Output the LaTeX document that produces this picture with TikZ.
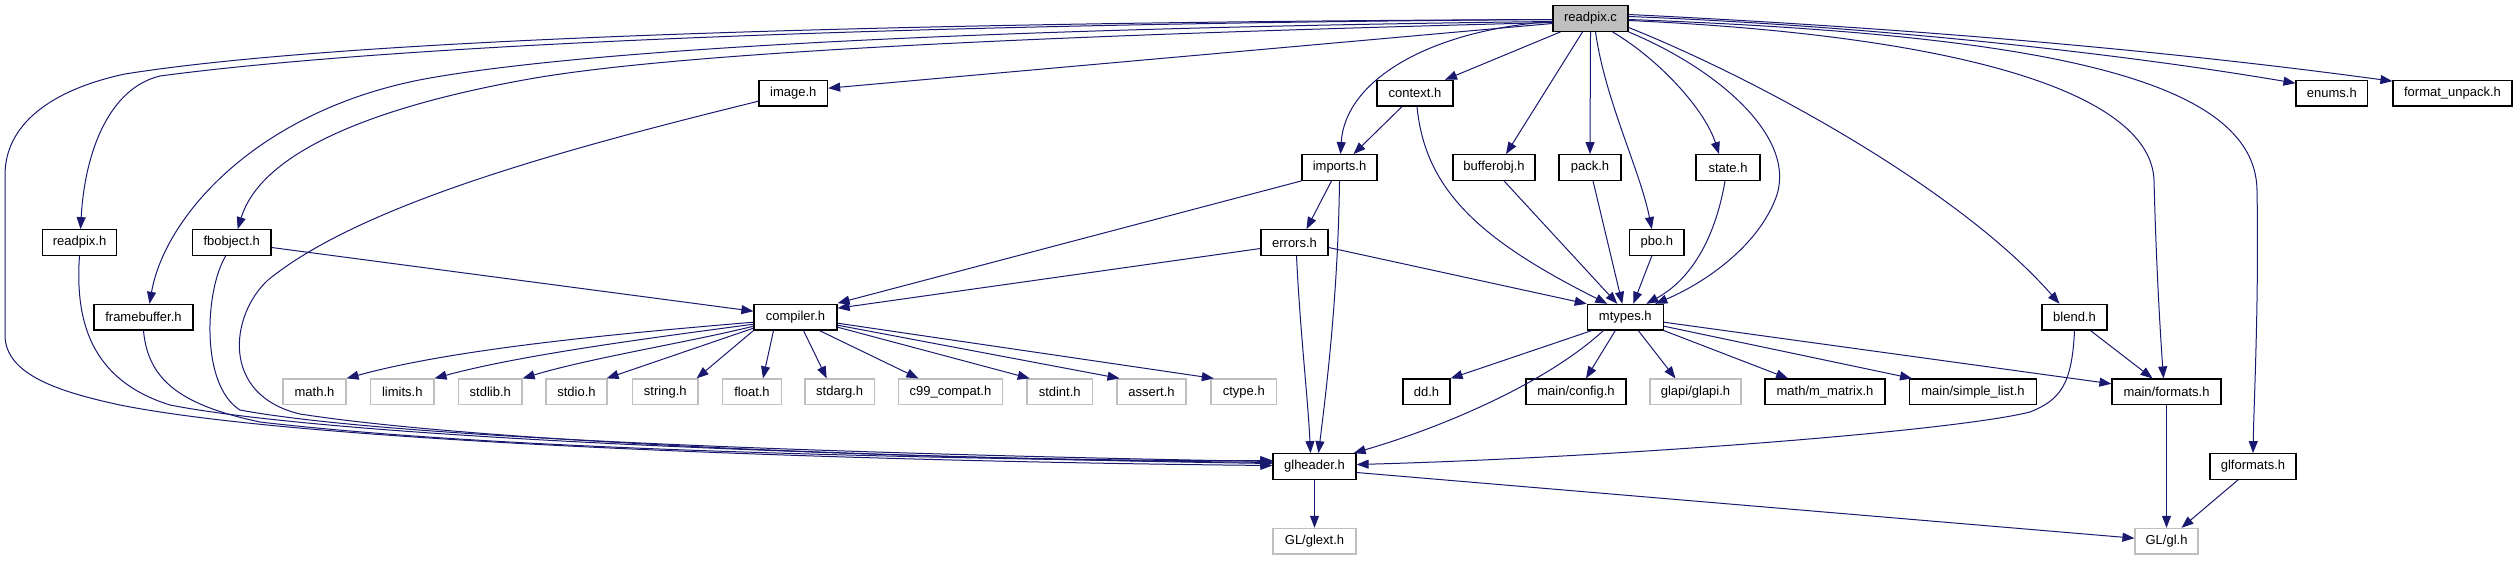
\documentclass[tikz,border=0pt]{standalone}
\usepackage{fontspec}
\setmainfont{Liberation Sans}
\usetikzlibrary{arrows.meta}
\definecolor{edgeblue}{HTML}{191970}
\definecolor{sysgray}{HTML}{BFBFBF}
\begin{document}
\begin{tikzpicture}[x=1pt,y=-1pt,
  nd/.style={draw=black, line width=1.2pt, fill=white, rectangle, minimum height=25.6pt, inner sep=0pt, font=\fontsize{13pt}{15pt}\selectfont},
  sys/.style={nd, draw=sysgray},
  dep/.style={draw=edgeblue, line width=1pt, -{Triangle[length=12pt,width=9pt]}}]
\useasboundingbox[fill=white] (0,0) rectangle (2516,560);
% rank 0
\node[nd, fill=sysgray, minimum width=75pt] (rc) at (1590.5,18.5) {readpix.c};
% rank 1
\node[nd, minimum width=68.5pt] (im) at (793.3,93.2) {image.h};
\node[nd, minimum width=76pt] (ct) at (1415,93.2) {context.h};
\node[nd, minimum width=71.5pt] (en) at (2331.8,93.2) {enums.h};
\node[nd, minimum width=119pt] (fu) at (2452.5,93.2) {format\_unpack.h};
% rank 2
\node[nd, minimum width=75pt] (ip) at (1339.5,167.5) {imports.h};
\node[nd, minimum width=82pt] (bo) at (1494,167.5) {bufferobj.h};
\node[nd, minimum width=62pt] (pk) at (1590,167.5) {pack.h};
\node[nd, minimum width=64pt] (st) at (1728,167.5) {state.h};
% rank 3
\node[nd, minimum width=74.5pt] (rh) at (79.5,242.5) {readpix.h};
\node[nd, minimum width=78.7pt] (fo) at (231.7,242.5) {fbobject.h};
\node[nd, minimum width=67pt] (er) at (1294.5,242.5) {errors.h};
\node[nd, minimum width=54.5pt] (pb) at (1656.8,242.5) {pbo.h};
% rank 4
\node[nd, minimum width=99pt] (fb) at (143.5,317.2) {framebuffer.h};
\node[nd, minimum width=83pt] (cp) at (795.5,317.2) {compiler.h};
\node[nd, minimum width=76pt] (mt) at (1625.3,317.2) {mtypes.h};
\node[nd, minimum width=65pt] (bl) at (2074.5,317.2) {blend.h};
% rank 5
\node[sys, minimum width=63pt] (mh) at (314.5,391.8) {math.h};
\node[sys, minimum width=63.3pt] (lm) at (402.3,391.8) {limits.h};
\node[sys, minimum width=63.5pt] (sdl) at (490.3,391.8) {stdlib.h};
\node[sys, minimum width=61pt] (sio) at (576.5,391.8) {stdio.h};
\node[sys, minimum width=65.4pt] (str) at (665.3,391.8) {string.h};
\node[sys, minimum width=59pt] (fl) at (752,391.8) {float.h};
\node[sys, minimum width=69.3pt] (sa) at (839.7,391.8) {stdarg.h};
\node[sys, minimum width=104pt] (cn) at (950.4,391.8) {c99\_compat.h};
\node[sys, minimum width=65.3pt] (sint) at (1059.7,391.8) {stdint.h};
\node[sys, minimum width=69pt] (asr) at (1151.5,391.8) {assert.h};
\node[sys, minimum width=65.5pt] (cty) at (1243.8,391.8) {ctype.h};
\node[nd, minimum width=47pt] (dd) at (1426.5,391.8) {dd.h};
\node[nd, minimum width=100pt] (mc) at (1576,391.8) {main/config.h};
\node[sys, minimum width=91pt] (ga) at (1695.5,391.8) {glapi/glapi.h};
\node[nd, minimum width=120pt] (mm) at (1825,391.8) {math/m\_matrix.h};
\node[nd, minimum width=126.5pt] (sl) at (1973,391.8) {main/simple\_list.h};
\node[nd, minimum width=109pt] (mf) at (2166.5,391.8) {main/formats.h};
% rank 6
\node[nd, minimum width=83pt] (gh) at (1314.5,466.5) {glheader.h};
\node[nd, minimum width=86pt] (gf) at (2253,466.5) {glformats.h};
% rank 7
\node[sys, minimum width=83pt] (ge) at (1314.5,541.2) {GL/glext.h};
\node[sys, minimum width=63pt] (gl) at (2166.5,541.2) {GL/gl.h};

% ---- edges from readpix.c
\draw[dep] ([yshift=-1pt]rc.west) .. controls (900,22) and (350,38) .. (125,74)
  .. controls (50,90) and (5,125) .. (5,175) -- (5,335)
  .. controls (5,375) and (60,392) .. (120,405)
  .. controls (320,445) and (900,462) .. ([yshift=1pt]gh.west);
\draw[dep] ([yshift=-1pt]rc.west) .. controls (900,24) and (400,44) .. (160,76)
  .. controls (110,88) and (85,150) .. ([xshift=1pt]rh.north);
\draw[dep] ([yshift=-3pt]rc.west) .. controls (1000,28) and (600,48) .. (430,78)
  .. controls (260,108) and (165,215) .. ([xshift=6pt]fb.north);
\draw[dep] ([yshift=-4pt]rc.west) .. controls (1100,34) and (700,50) .. (535,78)
  .. controls (380,105) and (262,150) .. ([xshift=6pt]fo.north);
\draw[dep] ([yshift=-5pt]rc.west) -- ([yshift=5pt]im.east);
\draw[dep] ([yshift=-3pt]rc.west) .. controls (1430,30) and (1345,80) .. ([xshift=1pt]ip.north);
\draw[dep] ([xshift=-30pt]rc.south) -- ([xshift=30pt]ct.north);
\draw[dep] ([xshift=-8pt]rc.south) -- ([xshift=12pt]bo.north);
\draw[dep] (rc.south) -- (pk.north);
\draw[dep] ([xshift=5pt]rc.south) .. controls (1605,100) and (1640,170) .. ([xshift=-5pt]pb.north);
\draw[dep] ([xshift=22pt]rc.south) .. controls (1660,60) and (1705,110) .. ([xshift=-9pt]st.north);
\draw[dep] (rc.south east) .. controls (1720,70) and (1800,140) .. (1775,200)
  .. controls (1755,250) and (1700,285) .. ([xshift=30pt]mt.north);
\draw[dep] ([yshift=-9pt]rc.east) .. controls (1760,80) and (1960,190) .. ([xshift=-15pt]bl.north);
\draw[dep] ([yshift=-2pt]rc.east) .. controls (1950,35) and (2150,90) .. (2154,180)
  .. controls (2156,260) and (2160,330) .. ([xshift=-3pt]mf.north);
\draw[dep] ([yshift=-1pt]rc.east) .. controls (2050,35) and (2255,80) .. (2257,190)
  .. controls (2259,300) and (2254,400) .. (gf.north);
\draw[dep] ([yshift=2pt]rc.east) .. controls (1850,25) and (2100,50) .. ([yshift=10pt]en.west);
\draw[dep] ([yshift=4pt]rc.east) .. controls (1950,30) and (2200,55) .. ([yshift=12pt]fu.west);

% ---- into glheader from the left
\draw[dep] (rh.south) .. controls (75,320) and (90,380) .. (170,405)
  .. controls (350,440) and (900,458) .. ([yshift=3pt]gh.west);
\draw[dep] (fb.south) .. controls (148,380) and (180,405) .. (260,422)
  .. controls (500,450) and (900,458) .. ([yshift=4pt]gh.west);
\draw[dep] ([xshift=-6pt]fo.south) .. controls (205,290) and (200,385) .. (240,410)
  .. controls (400,440) and (900,455) .. ([yshift=5pt]gh.west);
\draw[dep] ([yshift=-8pt]im.west) .. controls (560,150) and (360,205) .. (268,280)
  .. controls (230,315) and (220,395) .. (300,414)
  .. controls (500,445) and (1000,462) .. ([yshift=6pt]gh.west);

% ---- middle
\draw[dep] ([yshift=-5pt]fo.east) -- ([yshift=6pt]cp.west);
\draw[dep] (ip.south west) -- ([yshift=14pt]cp.east);
\draw[dep] ([yshift=-6pt]er.west) -- ([yshift=9pt]cp.east);
\draw[dep] ([xshift=-8pt]ip.south) -- ([xshift=12pt]er.north);
\draw[dep] (ip.south) .. controls (1338,300) and (1325,400) .. ([xshift=4pt]gh.north);
\draw[dep] ([xshift=2pt]er.south) .. controls (1300,330) and (1308,400) .. ([xshift=-4pt]gh.north);
\draw[dep] ([yshift=-5pt]er.east) -- (mt.north west);
\draw[dep] ([xshift=-13pt]ct.south) -- ([xshift=14pt]ip.north);
\draw[dep] ([xshift=2pt]ct.south) .. controls (1425,190) and (1480,240) .. ([xshift=-18pt]mt.north);
\draw[dep] ([xshift=10pt]bo.south) -- ([xshift=-8pt]mt.north);
\draw[dep] ([xshift=3pt]pk.south) -- ([xshift=-3pt]mt.north);
\draw[dep] ([xshift=-5pt]pb.south) -- ([xshift=8pt]mt.north);
\draw[dep] ([xshift=-3pt]st.south) .. controls (1715,240) and (1690,280) .. ([xshift=21pt]mt.north);

% ---- from mtypes.h
\draw[dep] ([xshift=5pt]mt.south west) -- (dd.north east);
\draw[dep] ([xshift=-22pt]mt.south) .. controls (1550,380) and (1450,425) .. ([xshift=-3pt]gh.north east);
\draw[dep] ([xshift=-10pt]mt.south) -- ([xshift=10pt]mc.north);
\draw[dep] ([xshift=13pt]mt.south) -- ([xshift=-20pt]ga.north);
\draw[dep] (mt.south east) -- ([xshift=-37pt]mm.north);
\draw[dep] ([yshift=-9pt]mt.east) -- ([xshift=-61pt]sl.north);
\draw[dep] ([yshift=-5pt]mt.east) -- ([yshift=8pt]mf.west);

% ---- blend, formats, GL
\draw[dep] (bl.south) .. controls (2072,385) and (2060,400) .. (2030,412)
  .. controls (1950,432) and (1600,458) .. ([yshift=2pt]gh.east);
\draw[dep] ([xshift=16pt]bl.south) -- ([xshift=-14pt]mf.north);
\draw[dep] (mf.south) -- (gl.north);
\draw[dep] ([xshift=-15pt]gf.south) -- ([xshift=15pt]gl.north);
\draw[dep] (gh.south) -- (ge.north);
\draw[dep] ([yshift=-6pt]gh.east) -- ([yshift=3pt]gl.west);

% ---- from compiler.h
\draw[dep] ([yshift=-5pt]cp.west) .. controls (600,335) and (450,350) .. (mh.north east);
\draw[dep] ([yshift=-7pt]cp.west) .. controls (650,338) and (520,355) .. (lm.north east);
\draw[dep] ([yshift=-9pt]cp.west) .. controls (690,342) and (590,358) .. (sdl.north east);
\draw[dep] ([yshift=-11pt]cp.west) -- ([xshift=-1pt]sio.north east);
\draw[dep] (cp.south west) -- ([xshift=-2pt]str.north east);
\draw[dep] ([xshift=-22pt]cp.south) -- ([xshift=11pt]fl.north);
\draw[dep] ([xshift=8pt]cp.south) -- ([xshift=-13pt]sa.north);
\draw[dep] ([xshift=24pt]cp.south) -- ([xshift=-32pt]cn.north);
\draw[dep] ([yshift=-10pt]cp.east) -- ([xshift=-30pt]sint.north);
\draw[dep] ([yshift=-8pt]cp.east) -- ([xshift=-32pt]asr.north);
\draw[dep] ([yshift=-6pt]cp.east) -- ([xshift=-30pt]cty.north);
\end{tikzpicture}
\end{document}
